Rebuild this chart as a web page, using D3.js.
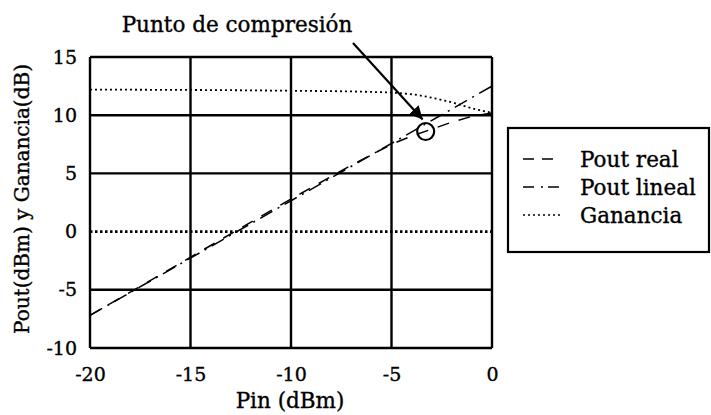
<!DOCTYPE html>
<html>
<head>
<meta charset="utf-8">
<script src="https://cdn.jsdelivr.net/npm/d3@7"></script>
<style>
  body { margin: 0; background: #fff; }
  text { font-family: "DejaVu Serif", "Liberation Serif", serif; fill: #000; stroke: #000; stroke-width: 0.35px; }
</style>
</head>
<body>
<div id="chart"></div>
<script>
// valores
const xTicks = [-20, -15, -10, -5, 0];
const yTicks = [-10, -5, 0, 5, 10, 15];

const pinReal = [-20, -15, -10, -7, -5, -4, -3, -2, -1, 0];
const poutReal = [-7.2, -2.2, 2.8, 5.7, 7.5, 8.2, 8.8, 9.4, 9.9, 10.2];

const pinLineal = [-20, 0];
const poutLineal = [-7.2, 12.5];

const pinGan = [-20, -10, -6, -4, -3, -2, -1, 0];
const ganancia = [12.2, 12.1, 12.0, 11.8, 11.5, 11.1, 10.6, 10.2];

const compresion = { pin: -3.3, pout: 8.6 };
const legendLabels = ["Pout real", "Pout lineal", "Ganancia"];

const dimension = { width: 711, height: 415 };
const margin = { top: 57, right: 219, bottom: 67, left: 90 };
const width = dimension.width - margin.left - margin.right;
const height = dimension.height - margin.top - margin.bottom;

const svg = d3.select("#chart").append("svg")
    .attr("width", dimension.width)
    .attr("height", dimension.height);

const g = svg.append("g")
    .attr("transform", `translate(${margin.left}, ${margin.top})`);

const x = d3.scaleLinear().domain([-20, 0]).range([0, width]);
const y = d3.scaleLinear().domain([-10, 15]).range([height, 0]);

// rejilla
g.selectAll(".vgrid").data(xTicks).enter().append("line")
    .attr("x1", d => x(d)).attr("x2", d => x(d))
    .attr("y1", 0).attr("y2", height)
    .attr("stroke", "#000").attr("stroke-width", 2.4);

g.selectAll(".hgrid").data(yTicks).enter().append("line")
    .attr("x1", 0).attr("x2", width)
    .attr("y1", d => y(d)).attr("y2", d => y(d))
    .attr("stroke", "#000")
    .attr("stroke-width", d => d === 0 ? 2.6 : 2.4)
    .attr("stroke-dasharray", d => d === 0 ? "2.5,2.5" : null);

// ejes (solo etiquetas), guion normal como en el original
const axisX = g.append("g")
    .attr("transform", `translate(0, ${height})`)
    .call(d3.axisBottom(x).tickValues(xTicks).tickSize(0).tickPadding(20).tickFormat(d => String(d)));
const axisY = g.append("g")
    .call(d3.axisLeft(y).tickValues(yTicks).tickSize(0).tickPadding(13).tickFormat(d => String(d)));
[axisX, axisY].forEach(a => {
    a.select(".domain").remove();
    a.selectAll("text")
        .style("font-family", "DejaVu Serif")
        .style("font-size", "19px");
});

// curvas
const line = d3.line().x(d => x(d[0])).y(d => y(d[1]));

g.append("path")
    .datum(d3.zip(pinLineal, poutLineal))
    .attr("d", line).attr("fill", "none").attr("stroke", "#000")
    .attr("stroke-width", 1.5).attr("stroke-dasharray", "14,6,2,6");

g.append("path")
    .datum(d3.zip(pinReal, poutReal))
    .attr("d", line).attr("fill", "none").attr("stroke", "#000")
    .attr("stroke-width", 1.5).attr("stroke-dasharray", "12,10");

g.append("path")
    .datum(d3.zip(pinGan, ganancia))
    .attr("d", d3.line().curve(d3.curveMonotoneX).x(d => x(d[0])).y(d => y(d[1])))
    .attr("fill", "none").attr("stroke", "#000")
    .attr("stroke-width", 1.8).attr("stroke-dasharray", "2,3");

// punto de compresion
const cx = x(compresion.pin), cy = y(compresion.pout);
g.append("circle")
    .attr("cx", cx).attr("cy", cy).attr("r", 8.5)
    .attr("fill", "none").attr("stroke", "#000").attr("stroke-width", 2.2);

svg.append("defs").append("marker")
    .attr("id", "flecha").attr("viewBox", "0 0 10 10")
    .attr("refX", 10).attr("refY", 5)
    .attr("markerWidth", 6).attr("markerHeight", 6)
    .attr("orient", "auto")
    .append("path").attr("d", "M0,0 L10,5 L0,10 z").attr("fill", "#000");

g.append("line")
    .attr("x1", 263).attr("y1", -14)
    .attr("x2", cx - 3).attr("y2", cy - 12)
    .attr("stroke", "#000").attr("stroke-width", 2.2)
    .attr("marker-end", "url(#flecha)");

svg.append("text")
    .attr("x", 237).attr("y", 32)
    .attr("text-anchor", "middle")
    .style("font-size", "21.5px")
    .text("Punto de compresión");

// titulos de ejes
svg.append("text")
    .attr("x", 290).attr("y", 408)
    .attr("text-anchor", "middle")
    .style("font-size", "21.5px")
    .text("Pin (dBm)");

svg.append("text")
    .attr("transform", "translate(29, 199) rotate(-90)")
    .attr("text-anchor", "middle")
    .style("font-size", "20px")
    .text("Pout(dBm) y Ganancia(dB)");

// leyenda
const legend = svg.append("g").attr("transform", "translate(508, 128)");
legend.append("rect")
    .attr("width", 201).attr("height", 124)
    .attr("fill", "#fff").attr("stroke", "#000").attr("stroke-width", 2.2);

const dashes = ["11,8", "11,7,2,5", "2,3"];
const items = legend.selectAll(".item").data(legendLabels).enter().append("g")
    .attr("transform", (d, i) => `translate(0, ${31 + i * 28})`);
items.append("line")
    .attr("x1", 15).attr("x2", 52)
    .attr("stroke", "#000").attr("stroke-width", 1.5)
    .attr("stroke-dasharray", (d, i) => dashes[i]);
items.append("text")
    .attr("x", 72).attr("dy", "0.35em")
    .style("font-size", "21.5px")
    .text(d => d);
</script>
</body>
</html>
